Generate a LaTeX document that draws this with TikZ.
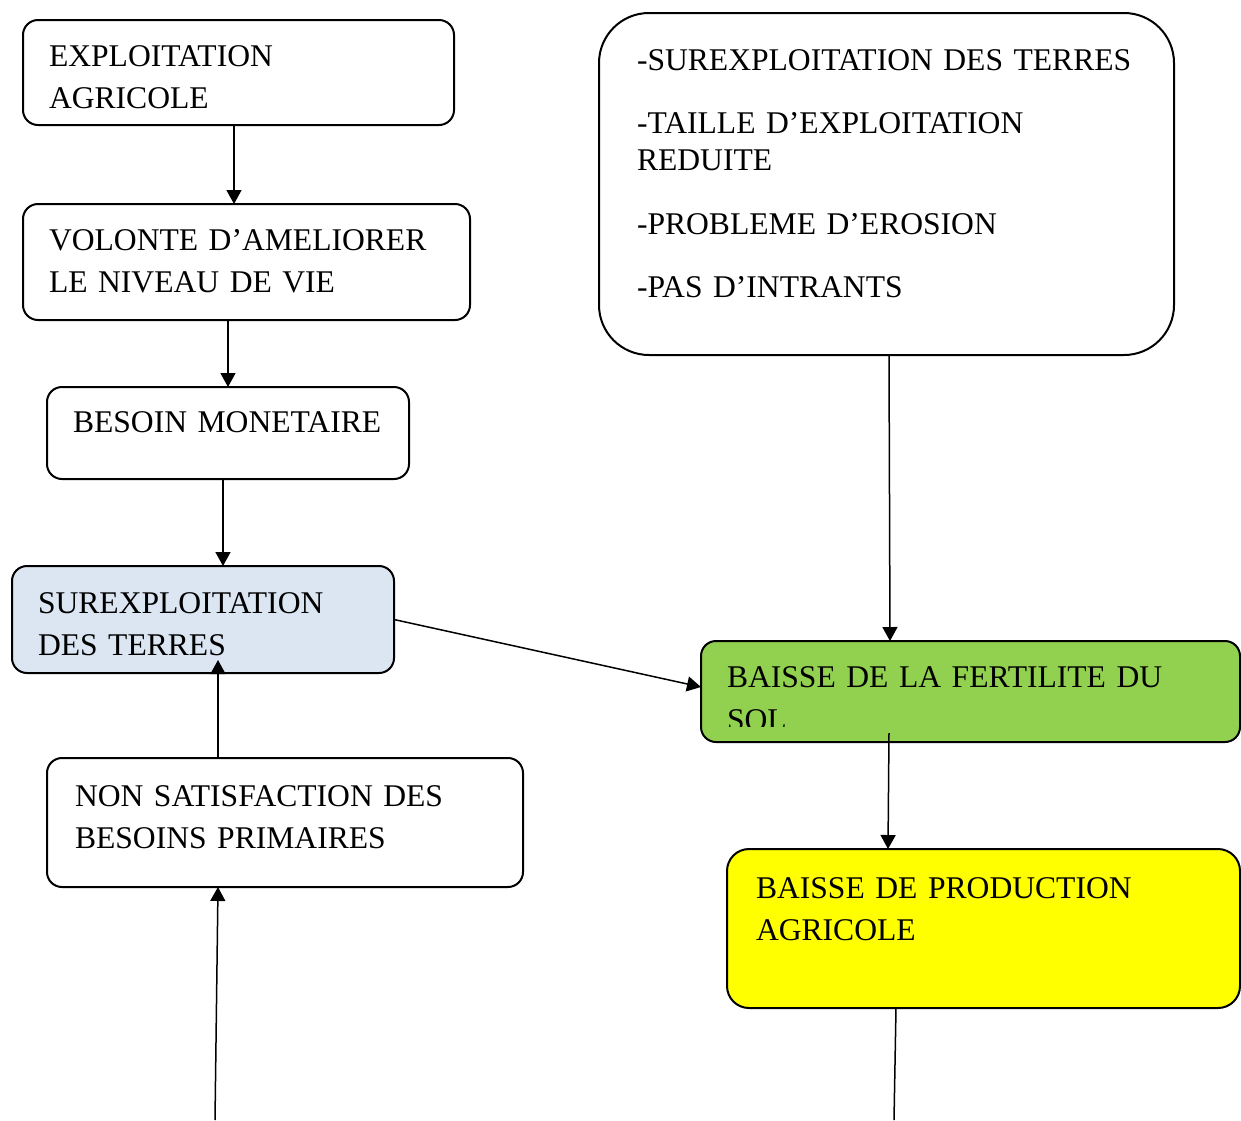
\documentclass[tikz,border=0pt]{standalone}
\usepackage{fontspec}
\setmainfont{Liberation Serif}
\usetikzlibrary{arrows.meta}

\definecolor{surexblue}{HTML}{DCE6F2}
\definecolor{fertgreen}{HTML}{92D050}
\definecolor{prodyellow}{HTML}{FFFF00}

\begin{document}
\begin{tikzpicture}[x=1pt, y=-1pt,
        box/.style={draw, line width=2pt, rectangle, rounded corners=15pt, anchor=north west,
            outer sep=0pt, inner ysep=0pt, inner xsep=26pt, align=left,
            font=\fontsize{31.6}{42}\selectfont},
        arr/.style={-{Triangle[length=14pt,width=15pt]}, line width=1.5pt}]
        \useasboundingbox (0,0) rectangle (1241,1120);

        % left column
        \node (expl) [box, text width=379pt, text height=46pt, text depth=59pt] at (23,20) {EXPLOITATION\\AGRICOLE};
        \node (volonte) [box, text width=395pt, text height=46pt, text depth=70pt] at (23,204) {VOLONTE D’AMELIORER\\LE NIVEAU DE VIE};
        \node (besoin) [box, text width=310pt, text height=45pt, text depth=47pt] at (47,387) {BESOIN MONETAIRE};
        \node (surex) [box, fill=surexblue, text width=330pt, text height=47pt, text depth=60pt] at (12,566) {SUREXPLOITATION\\DES TERRES};
        \node (nonsat) [box, inner xsep=28pt, text width=420pt, text height=48pt, text depth=81pt] at (47,758) {NON SATISFACTION DES\\BESOINS PRIMAIRES};

        % right column
        \node (causes) [box, rounded corners=50pt, inner xsep=38pt, text width=499pt, text height=57pt, text depth=285pt,
            font=\fontsize{31.6}{37}\selectfont] at (599,13)
            {-SUREXPLOITATION DES TERRES\\[26.5pt]-TAILLE D’EXPLOITATION\\REDUITE\\[26.5pt]-PROBLEME D’EROSION\\[26.5pt]-PAS D’INTRANTS};
        \node (fert) [box, fill=fertgreen, text width=487pt, text height=46pt, text depth=55pt,
            font=\fontsize{31.6}{43}\selectfont] at (701,641) {BAISSE DE LA FERTILITE DU\\SOL};
        \fill[fertgreen] (712,727) rectangle (1000,739);
        \node (prod) [box, fill=prodyellow, rounded corners=22pt, inner xsep=29pt, text width=455pt, text height=49pt, text depth=110pt] at (727,849) {BAISSE DE PRODUCTION\\AGRICOLE};

        \coordinate (bas1) at (215,1120);
        \coordinate (bas2) at (894,1120);

        \draw[arr] ([xshift=-4.5pt]expl.south) -- ([xshift=-12.5pt]volonte.north);
        \draw[arr] ([xshift=-18.5pt]volonte.south) -- (besoin.north);
        \draw[arr] ([xshift=-5pt]besoin.south) -- ([xshift=20pt]surex.north);
        \draw[arr] ([xshift=-67pt]nonsat.north) -- ([xshift=15pt, yshift=13pt]surex.south);
        \draw[arr] (bas1) -- ([xshift=-67pt]nonsat.south);
        \draw[arr] (surex.east) -- ([yshift=4.5pt]fert.west);
        \draw[arr] ([xshift=2.5pt]causes.south) -- ([xshift=-80.5pt]fert.north);
        \draw[arr] ([xshift=-81.5pt, yshift=9pt]fert.south) -- ([xshift=-95.5pt]prod.north);
        \draw[line width=1.5pt] ([xshift=-87.5pt]prod.south) -- (bas2);
    \end{tikzpicture}
\end{document}
